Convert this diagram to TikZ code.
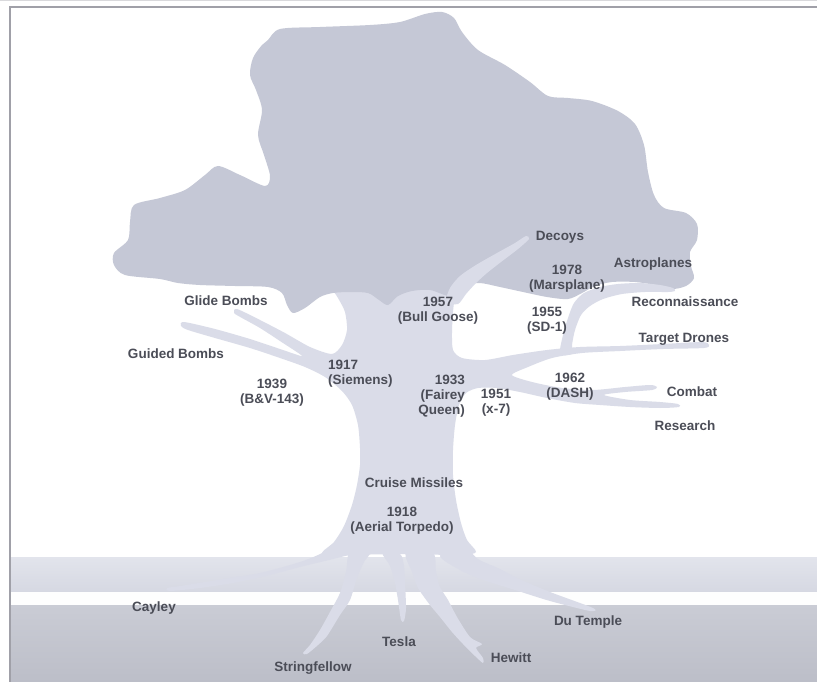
\documentclass[tikz,border=0pt]{standalone}
\usepackage{fontspec}
\setmainfont{Liberation Sans}
\definecolor{leafgray}{HTML}{C5C8D6}
\definecolor{woodgray}{HTML}{DADCE8}
\definecolor{labelgray}{HTML}{4B4D57}
\definecolor{framegray}{HTML}{A0A0A8}
\definecolor{soiltop}{HTML}{E2E4EC}
\definecolor{soilmid}{HTML}{D6D8E2}
\definecolor{deeptop}{HTML}{CACCD5}
\definecolor{deepbot}{HTML}{BCBEC8}
\begin{document}
\begin{tikzpicture}[x=1pt,y=-1pt,
  lbl/.style={font=\fontsize{13.5}{15}\selectfont\bfseries, text=labelgray, inner sep=0pt, align=center},
  wood/.style={fill=woodgray},
  leaf/.style={fill=leafgray}]
\useasboundingbox (0,0) rectangle (817,682);
\fill[white] (0,0) rectangle (817,682);

% ground layers
\fill[top color=soiltop, bottom color=soilmid] (11,557) rectangle (817,592);
\fill[fill=white!97!soilmid] (11,592) rectangle (817,605);
\fill[top color=deeptop, bottom color=deepbot] (11,605) rectangle (817,682);

% frame
\draw[framegray!40, line width=0.8pt] (0,0.5) -- (817,0.5);
\draw[framegray, line width=2pt] (10,682) -- (10,7) -- (817,7);

% trunk with side branches
\fill[wood] plot[smooth cycle, tension=0.45] coordinates {
 (330,272) (455,272) (455,292) (453,312) (452,332) (453,350) (462,358) (485,360)
 (513,355) (547,350) (580,347) (620,346) (663,344) (702,342) (709,345) (704,348)
 (663,349) (620,351) (582,353) (552,358) (528,367) (512,375) (532,382) (562,388)
 (593,390) (625,387) (650,385) (657,387) (652,390) (625,392) (604,395) (630,400)
 (660,402) (678,404) (679,407) (660,408) (630,407) (600,405) (575,403) (547,398)
 (520,392) (497,388) (478,388) (466,393) (459,405) (455,425) (453,450) (453,475)
 (456,500) (461,523) (467,540) (476,552) (460,555) (400,554) (340,555) (322,553)
 (334,542) (344,526) (352,505) (357,485) (360,465) (360,448) (358,425) (352,405)
 (342,391) (325,377) (305,367) (280,358) (250,348) (215,338) (188,330) (181,326)
 (184,322) (215,329) (250,339) (280,349) (302,356) (283,343) (260,328) (242,318)
 (234,313) (237,309) (260,320) (285,333) (310,347) (332,354) (342,345) (347,330)
 (345,312) (338,298) (330,285)};

% roots
\fill[wood] plot[smooth cycle, tension=0.45] coordinates {
 (340,540) (322,553) (300,562) (260,573) (217,580) (180,586) (167,588) (170,591)
 (200,588) (233,583) (270,575) (300,567) (325,561) (345,556) (355,553)};
\fill[wood] plot[smooth cycle, tension=0.45] coordinates {
 (350,550) (346,572) (340,593) (330,612) (320,630) (310,645) (303,653) (307,654)
 (318,645) (327,636) (340,615) (350,600) (357,578) (364,562) (370,552)};
\fill[wood] plot[smooth cycle, tension=0.45] coordinates {
 (382,552) (390,566) (395,583) (398,600) (401,620) (404,621) (406,608) (405,583)
 (404,566) (400,554)};
\fill[wood] plot[smooth cycle, tension=0.45] coordinates {
 (406,553) (412,572) (418,588) (430,605) (440,617) (452,632) (463,644) (475,656)
 (483,663) (483,658) (476,648) (482,644) (470,637) (457,617) (448,600) (440,587)
 (436,572) (433,553)};
\fill[wood] plot[smooth cycle, tension=0.45] coordinates {
 (460,543) (478,559) (500,569) (517,578) (550,592) (593,608) (590,611) (550,601)
 (515,590) (483,580) (460,570) (440,556)};

% crown
\fill[leaf] plot[smooth cycle, tension=0.5] coordinates {
 (268,40) (280,29) (320,27) (370,25) (400,22) (425,14) (442,12) (454,18) (462,32)
 (478,50) (505,65) (530,82) (548,96) (568,98) (592,101) (618,111) (635,124)
 (644,145) (648,172) (654,195) (664,208) (686,213) (697,224) (697,240) (690,252)
 (691,266) (694,278) (686,286) (672,289) (655,285) (635,282) (612,282) (595,286)
 (582,293) (568,299) (547,297) (523,292) (500,287) (480,283) (466,285) (456,293)
 (448,296) (430,290) (412,291) (398,296) (388,305) (379,300) (368,293) (350,292)
 (333,293) (320,297) (305,308) (293,313) (287,305) (282,293) (268,287) (235,286)
 (200,285) (178,283) (160,279) (125,275) (114,265) (114,253) (128,240) (130,222)
 (134,205) (160,198) (185,190) (205,175) (218,166) (240,175) (265,186) (270,176)
 (264,155) (258,135) (262,110) (256,90) (250,75) (253,58) (262,45)};

% branches reaching into the crown
\fill[wood] plot[smooth cycle, tension=0.45] coordinates {
 (446,302) (450,288) (460,276) (476,265) (497,253) (515,243) (526,236) (529,239)
 (518,249) (501,262) (487,273) (476,283) (466,294) (458,304)};
\fill[wood] plot[smooth cycle, tension=0.45] coordinates {
 (560,354) (563,335) (568,318) (574,303) (584,293) (600,287) (618,284) (640,283)
 (660,285) (673,288) (675,291) (668,292) (645,292) (622,294) (603,299) (590,306)
 (581,315) (575,330) (572,345) (572,354)};

% labels
\node[lbl] (decoys) at (560,237) {Decoys};
\node[lbl] (marsplane) at (567,279) {1978\\(Marsplane)};
\node[lbl] (astroplanes) at (653,264) {Astroplanes};
\node[lbl] (recon) at (685,302) {Reconnaissance};
\node[lbl] (sdone) at (547,321) {1955\\(SD-1)};
\node[lbl] (targets) at (684,339) {Target Drones};
\node[lbl] (dash) at (570,387) {1962\\(DASH)};
\node[lbl] (combat) at (692,392) {Combat};
\node[lbl] (research) at (685,426) {Research};
\node[lbl] (xseven) at (496,403) {1951\\(x-7)};
\node[lbl, align=right, anchor=east] (fairey) at (465,396) {1933\\(Fairey\\Queen)};
\node[lbl] (bullgoose) at (438,311) {1957\\(Bull Goose)};
\node[lbl, align=left, anchor=west] (siemens) at (328,374) {1917\\(Siemens)};
\node[lbl] (glide) at (226,301) {Glide Bombs};
\node[lbl] (guided) at (176,354) {Guided Bombs};
\node[lbl] (bv) at (272,393) {1939\\(B\&V-143)};
\node[lbl] (cruise) at (414,483) {Cruise Missiles};
\node[lbl] (aerial) at (402,521) {1918\\(Aerial Torpedo)};
\node[lbl] (cayley) at (154,608) {Cayley};
\node[lbl] (stringfellow) at (313,668) {Stringfellow};
\node[lbl] (tesla) at (399,642) {Tesla};
\node[lbl] (hewitt) at (511,658) {Hewitt};
\node[lbl] (dutemple) at (588,622) {Du Temple};
\end{tikzpicture}
\end{document}
